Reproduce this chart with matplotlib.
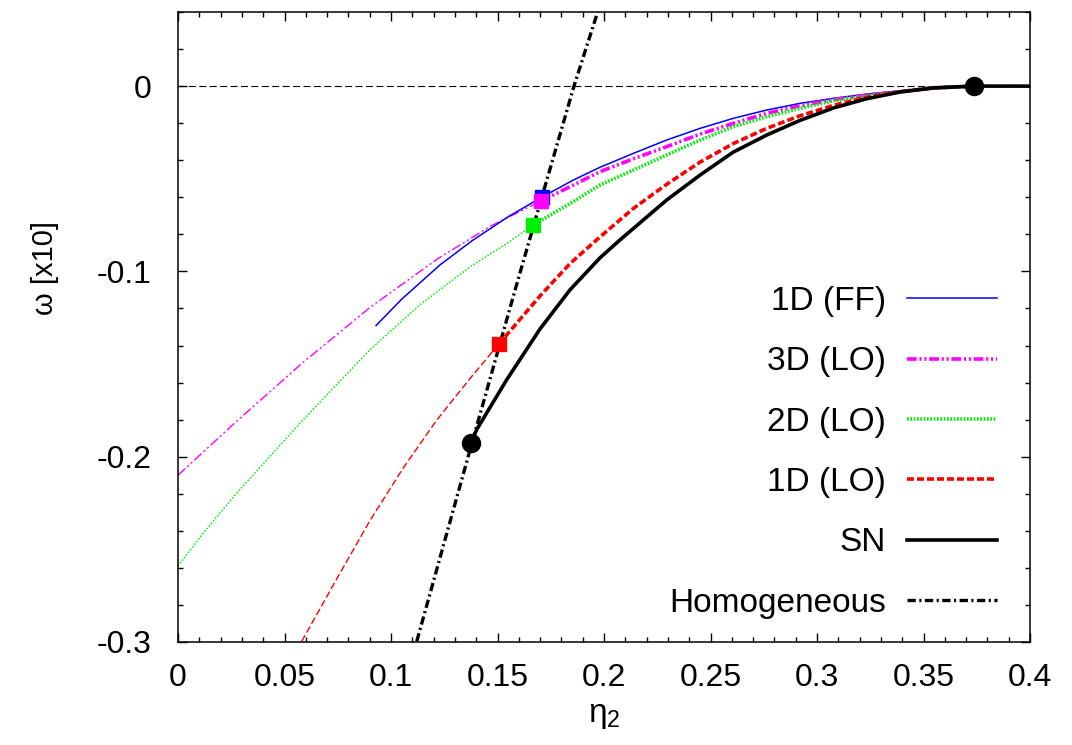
import numpy as np
import matplotlib
matplotlib.use('Agg')
import matplotlib.pyplot as plt
from matplotlib.ticker import MultipleLocator

plt.rcParams['font.family'] = ['Liberation Sans', 'DejaVu Sans']
plt.rcParams['mathtext.fontset'] = 'custom'
plt.rcParams['mathtext.rm'] = 'Liberation Sans'
plt.rcParams['lines.scale_dashes'] = False

# SN (saddle-node) curve
sn_x = [0.1376, 0.1402, 0.1543, 0.1700, 0.1840, 0.1981, 0.2075, 0.2294, 0.2451,
        0.2607, 0.2764, 0.2920, 0.3077, 0.3233, 0.3390, 0.3545, 0.3737, 0.4000]
sn_y = [-0.1925, -0.1854, -0.1585, -0.1310, -0.1100, -0.0927, -0.0830, -0.0615, -0.0480,
        -0.0356, -0.0264, -0.0185, -0.0118, -0.0068, -0.0032, -0.0010, 0.0, 0.0]

# 1D (LO): thin (unstable) and thick parts
lo1_thin_x = [0.0581, 0.0745, 0.0901, 0.1058, 0.1215, 0.1371, 0.1505]
lo1_thin_y = [-0.2996, -0.2660, -0.2345, -0.2060, -0.1802, -0.1578, -0.1394]
lo1_x = [0.1505, 0.1700, 0.1840, 0.1981, 0.2138, 0.2294, 0.2451, 0.2607, 0.2764,
         0.2920, 0.3077, 0.3233, 0.3390, 0.3545, 0.3737]
lo1_y = [-0.1394, -0.1132, -0.0958, -0.0814, -0.0660, -0.0530, -0.0410, -0.0310, -0.0228,
         -0.0160, -0.0104, -0.0060, -0.0030, -0.0010, 0.0]

# 2D (LO)
lo2_thin_x = [0.0, 0.0119, 0.0276, 0.0588, 0.0901, 0.1136, 0.1371, 0.1543, 0.1668]
lo2_thin_y = [-0.2590, -0.2411, -0.2196, -0.1800, -0.1423, -0.1180, -0.0975, -0.0850, -0.0749]
lo2_x = [0.1668, 0.1856, 0.1981, 0.2138, 0.2294, 0.2451, 0.2607, 0.2764, 0.2920,
         0.3077, 0.3233, 0.3390, 0.3545, 0.3737]
lo2_y = [-0.0749, -0.0623, -0.0534, -0.0453, -0.0372, -0.0291, -0.0219, -0.0165, -0.0120,
         -0.0079, -0.0054, -0.0030, -0.0009, 0.0]

# 3D (LO)
lo3_thin_x = [0.0, 0.0276, 0.0588, 0.0901, 0.1215, 0.1465, 0.1704]
lo3_thin_y = [-0.2100, -0.1808, -0.1490, -0.1195, -0.0935, -0.0757, -0.0620]
lo3_x = [0.1704, 0.1856, 0.1981, 0.2138, 0.2294, 0.2451, 0.2607, 0.2764, 0.2920,
         0.3077, 0.3233, 0.3390, 0.3545, 0.3737]
lo3_y = [-0.0620, -0.0534, -0.0462, -0.0392, -0.0327, -0.0259, -0.0201, -0.0147, -0.0106,
         -0.0072, -0.0049, -0.0030, -0.0009, 0.0]

# 1D (FF)
ff_x = [0.0930, 0.1050, 0.1230, 0.1380, 0.1550, 0.1710, 0.1856, 0.1981, 0.2138, 0.2294,
        0.2451, 0.2607, 0.2764, 0.2920, 0.3077, 0.3233, 0.3390, 0.3545, 0.3737]
ff_y = [-0.1292, -0.1150, -0.0965, -0.0835, -0.0705, -0.0598, -0.0507, -0.0438, -0.0363, -0.0291,
        -0.0228, -0.0174, -0.0129, -0.0093, -0.0066, -0.0043, -0.0025, -0.0008, 0.0]

# Homogeneous
hom_x = [0.1121, 0.1379, 0.1596, 0.1859, 0.1970]
hom_y = [-0.2996, -0.1930, -0.1046, 0.0, 0.0399]

# end points
sq_x = {'ff': 0.1710, 'lo3': 0.1704, 'lo2': 0.1668, 'lo1': 0.1505}
sq_y = {'ff': -0.0598, 'lo3': -0.0620, 'lo2': -0.0749, 'lo1': -0.1394}
circ_x = [0.1376, 0.3737]
circ_y = [-0.1925, 0.0]

fig = plt.figure(figsize=(10.72, 7.45), dpi=100)
ax = fig.add_axes([178 / 1072, 1 - 642 / 745, 852 / 1072, 630 / 745])

ax.plot([0, 0.4], [0, 0], color='black', lw=0.8, dashes=(5, 2.5))

dash_red = (5, 2.2)
dash_mag = (7, 2, 1.5, 2, 1.5, 2)
dash_grn = (1.2, 1.2)
dash_hom = (6, 2.5, 1.5, 2.5)

ax.plot(lo3_thin_x, lo3_thin_y, color='magenta', lw=1.0, dashes=dash_mag)
ax.plot(lo2_thin_x, lo2_thin_y, color='#00ee00', lw=1.0, dashes=dash_grn)
ax.plot(lo1_thin_x, lo1_thin_y, color='red', lw=1.0, dashes=dash_red)

ax.plot(ff_x, ff_y, color='blue', lw=1.1, label='1D (FF)')
ax.plot(lo3_x, lo3_y, color='magenta', lw=2.6, dashes=dash_mag, label='3D (LO)')
ax.plot(lo2_x, lo2_y, color='#00ee00', lw=2.6, dashes=dash_grn, label='2D (LO)')
ax.plot(lo1_x, lo1_y, color='red', lw=2.6, dashes=dash_red, label='1D (LO)')
ax.plot(sn_x, sn_y, color='black', lw=2.6, label='SN')
ax.plot(hom_x, hom_y, color='black', lw=2.4, dashes=dash_hom, label='Homogeneous')

ax.plot(sq_x['ff'], sq_y['ff'], 's', color='blue', ms=10, mec='blue')
ax.plot(sq_x['lo3'], sq_y['lo3'], 's', color='magenta', ms=10, mec='magenta')
ax.plot(sq_x['lo2'], sq_y['lo2'], 's', color='#00ee00', ms=10, mec='#00ee00')
ax.plot(sq_x['lo1'], sq_y['lo1'], 's', color='red', ms=10, mec='red')
ax.plot(circ_x, circ_y, 'o', color='black', ms=13)

ax.set_xlim(0, 0.4)
ax.set_ylim(-0.3, 0.04)
ax.xaxis.set_major_locator(MultipleLocator(0.05))
ax.xaxis.set_minor_locator(MultipleLocator(0.01))
ax.yaxis.set_major_locator(MultipleLocator(0.1))
ax.yaxis.set_minor_locator(MultipleLocator(0.02))
ax.set_xticks([0, 0.05, 0.1, 0.15, 0.2, 0.25, 0.3, 0.35, 0.4])
ax.set_xticklabels(['0', '0.05', '0.1', '0.15', '0.2', '0.25', '0.3', '0.35', '0.4'])
ax.set_yticks([-0.3, -0.2, -0.1, 0])
ax.set_yticklabels(['-0.3', '-0.2', '-0.1', '0'])
ax.tick_params(which='both', direction='in', top=True, right=True, width=1.0)
ax.tick_params(which='major', length=6.5)
ax.tick_params(which='minor', length=3.6)
ax.tick_params(axis='x', labelsize=23, pad=15)
ax.tick_params(axis='y', labelsize=23, pad=19)
for s in ax.spines.values():
    s.set_linewidth(1.1)

ax.set_xlabel(r'$\mathregular{\eta_2}$', fontsize=24)
ax.xaxis.set_label_coords(0.5, -0.092)
ax.set_ylabel('ω [x10]', fontsize=21)
ax.yaxis.set_label_coords(-0.14, 0.594)

leg = ax.legend(loc='upper right', bbox_to_anchor=(0.961, 0.565), frameon=False,
                markerfirst=False, fontsize=24, handlelength=2.7, handletextpad=0.63,
                labelspacing=0.88, borderpad=0, borderaxespad=0)

plt.savefig('out.png', dpi=100)
